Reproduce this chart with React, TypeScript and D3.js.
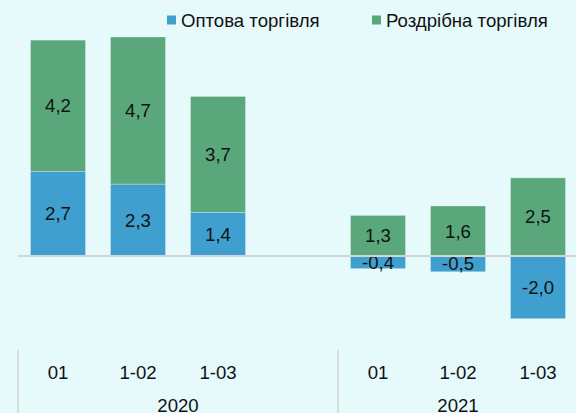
import React from "react";
import * as d3 from "d3";

const periods = ["01", "1-02", "1-03", "", "01", "1-02", "1-03"];
const years = ["2020", "2020", "2020", "2020", "2021", "2021", "2021"];
const wholesale: (number | null)[] = [2.7, 2.3, 1.4, null, -0.4, -0.5, -2.0];
const retail: (number | null)[] = [4.2, 4.7, 3.7, null, 1.3, 1.6, 2.5];
const seriesNames = ["Оптова торгівля", "Роздрібна торгівля"];
const seriesColors = ["#3FA0CF", "#5AA77C"];

const W = 576;
const H = 413;
const BG = "#E6FAFC";
const FONT = "'Liberation Sans', Arial, sans-serif";
const FS = 18.6;

export default function App() {
  const x = d3
    .scaleBand<number>()
    .domain(periods.map((_, i) => i))
    .range([18, 578])
    .paddingInner(0.3125)
    .paddingOuter(0.15625);
  const y = d3.scaleLinear().domain([-3, 8]).range([350, 5.7]);

  const fmt = (v: number) => d3.format(".1f")(v).replace(".", ",").replace("−", "-");

  const segs: { i: number; s: number; y0: number; y1: number; v: number }[] = [];
  periods.forEach((_, i) => {
    let pos = 0;
    let neg = 0;
    [wholesale[i], retail[i]].forEach((v, s) => {
      if (v == null) return;
      if (v >= 0) {
        segs.push({ i, s, y0: pos, y1: pos + v, v });
        pos += v;
      } else {
        segs.push({ i, s, y0: neg, y1: neg + v, v });
        neg += v;
      }
    });
  });

  const groups: { year: string; start: number; end: number }[] = [];
  years.forEach((yr, i) => {
    const last = groups[groups.length - 1];
    if (last && last.year === yr) last.end = i;
    else groups.push({ year: yr, start: i, end: i });
  });
  const step = x.step();
  const r0 = x.range()[0];
  const gx = (i: number) => r0 + i * step;

  return (
    <div style={{ position: "fixed", left: 0, top: 0 }}>
      <svg width={W} height={H} style={{ display: "block" }}>
        <rect x={0} y={0} width={W} height={H} fill={BG} />
        {segs.map((d, k) => {
          const top = y(Math.max(d.y0, d.y1));
          const bot = y(Math.min(d.y0, d.y1));
          return (
            <g key={k}>
              <rect
                x={x(d.i)!}
                y={top}
                width={x.bandwidth()}
                height={bot - top}
                fill={seriesColors[d.s]}
                stroke="#ffffff"
                strokeOpacity={0.35}
                strokeWidth={0.8}
              />
              <text
                x={x(d.i)! + x.bandwidth() / 2}
                y={(top + bot) / 2}
                dy="0.35em"
                textAnchor="middle"
                fontFamily={FONT}
                fontSize={FS}
                fill="#111"
              >
                {fmt(d.v)}
              </text>
            </g>
          );
        })}
        <line x1={r0} x2={W} y1={y(0)} y2={y(0)} stroke="#D4D4D4" strokeWidth={2} />
        {periods.map((p, i) => (
          <text
            key={"p" + i}
            x={x(i)! + x.bandwidth() / 2}
            y={372}
            dy="0.35em"
            textAnchor="middle"
            fontFamily={FONT}
            fontSize={FS}
            fill="#111"
          >
            {p}
          </text>
        ))}
        {groups.map((g, k) => (
          <g key={"g" + k}>
            <line
              x1={gx(g.start)}
              x2={gx(g.start)}
              y1={y(-3)}
              y2={H}
              stroke="#D4D4D4"
              strokeWidth={1.5}
            />
            <text
              x={(gx(g.start) + gx(g.end + 1)) / 2}
              y={405}
              dy="0.35em"
              textAnchor="middle"
              fontFamily={FONT}
              fontSize={FS}
              fill="#111"
            >
              {g.year}
            </text>
          </g>
        ))}
        {seriesNames.map((n, s) => {
          const lx = s === 0 ? 167 : 372;
          return (
            <g key={"l" + s}>
              <rect x={lx} y={15.5} width={9} height={9} fill={seriesColors[s]} />
              <text x={lx + 14} y={20} dy="0.35em" fontFamily={FONT} fontSize={FS} fill="#111">
                {n}
              </text>
            </g>
          );
        })}
      </svg>
    </div>
  );
}
